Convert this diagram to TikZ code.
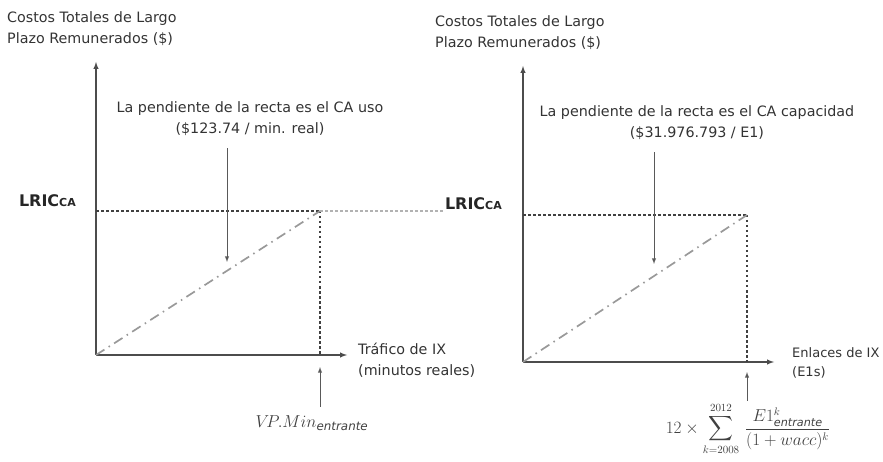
\documentclass[tikz,border=0pt]{standalone}
\usepackage{exscale}
\usepackage{fontspec}
\setmainfont{DejaVu Sans}
\usetikzlibrary{positioning}
\usetikzlibrary{arrows}

\begin{document}
\begin{tikzpicture}[x=1pt, y=-1pt]
	\tikzstyle{axis} = [draw, -latex, line width=1.4pt, color=black!70]
	\tikzstyle{line} = [draw, -latex, line width=0.9pt, color=black!65]
	\tikzstyle{guide} = [draw, dash pattern=on 2.5pt off 2.5pt, line width=1.1pt, color=black!75]
	\tikzstyle{slope} = [draw, dash pattern=on 10pt off 5pt on 1.5pt off 5pt, line width=1.7pt, color=black!40]
	\tikzstyle{txt} = [font=\fontsize{14.3}{21}\selectfont, text=black!80, inner sep=0pt]
	\tikzstyle{formula} = [font=\fontsize{17}{20}\selectfont, text=black!75, inner sep=0pt]
	\tikzstyle{lric} = [font=\fontsize{16}{18}\selectfont\bfseries, text=black!85, inner sep=0pt]
	
	\useasboundingbox (0,0) rectangle (883,462);
	
	% left chart
	\coordinate (O1) at (96,355);
	\coordinate (Y1) at (96,62);
	\coordinate (X1) at (347,355);
	\coordinate (P1) at (320,211);
	\coordinate (B1) at (320,355);
	\coordinate (T1) at (227,262);
	
	\node [txt, align=left, anchor=north west] (ylab1) at (7,11) {Costos Totales de Largo\\Plazo Remunerados (\$)};
	\node [txt, align=center] (ann1) at (250,119) {La pendiente de la recta es el CA uso\\(\$123.74 / min. real)};
	\node [lric, anchor=east] (lric1) at (76,201) {LRIC{\fontsize{11}{12}\selectfont CA}};
	\node [txt, align=left, anchor=west] (xlab1) at (358,360) {Tráfico de IX\\(minutos reales)};
	\node [formula, outer sep=9pt] (vp) at (312,423) {$V\!P.Min_{\mathit{entrante}}$};
	
	\path [axis] (O1) -- (Y1);
	\path [axis] (O1) -- (X1);
	\path [guide] (O1 |- P1) -- (P1);
	\path [guide] (P1) -- (B1);
	\path [slope] (O1) -- (P1);
	\path [line] (ann1.south -| T1) ++(0,12) -- (T1);
	\path [line] (vp.north -| B1) -- ([yshift=-12pt]B1);
	
	% right chart
	\coordinate (O2) at (523,362);
	\coordinate (Y2) at (523,66);
	\coordinate (X2) at (774,362);
	\coordinate (P2) at (747,215);
	\coordinate (B2) at (747,362);
	\coordinate (T2) at (654,264);
	
	\node [txt, align=left, anchor=north west] (ylab2) at (435,15) {Costos Totales de Largo\\Plazo Remunerados (\$)};
	\node [txt, align=center] (ann2) at (697,123) {La pendiente de la recta es el CA capacidad\\(\$31.976.793 / E1)};
	\node [lric, anchor=east] (lric2) at (502,204) {LRIC{\fontsize{11}{12}\selectfont CA}};
	\node [txt, font=\fontsize{13}{19}\selectfont, align=left, anchor=west] (xlab2) at (792,363) {Enlaces de IX\\(E1s)};
	\node [formula, font=\fontsize{16}{19}\selectfont, outer sep=2pt] (sum) at (748,429)
		{$12\times\displaystyle\sum_{k=2008}^{2012}\,\frac{E1^{k}_{\mathit{entrante}}}{(1+wacc)^{k}}$};
	
	\path [axis] (O2) -- (Y2);
	\path [axis] (O2) -- (X2);
	\path [guide] (O2 |- P2) -- (P2);
	\path [guide] (P2) -- (B2);
	\path [slope] (O2) -- (P2);
	\path [line] (ann2.south -| T2) ++(0,12) -- (T2);
	\path [line] (sum.north -| B2) -- ([yshift=-10pt]B2);
	
	% LRIC level carried across
	\path [guide, color=black!30] (P1) -- (lric2.west |- P1);
\end{tikzpicture}
\end{document}
